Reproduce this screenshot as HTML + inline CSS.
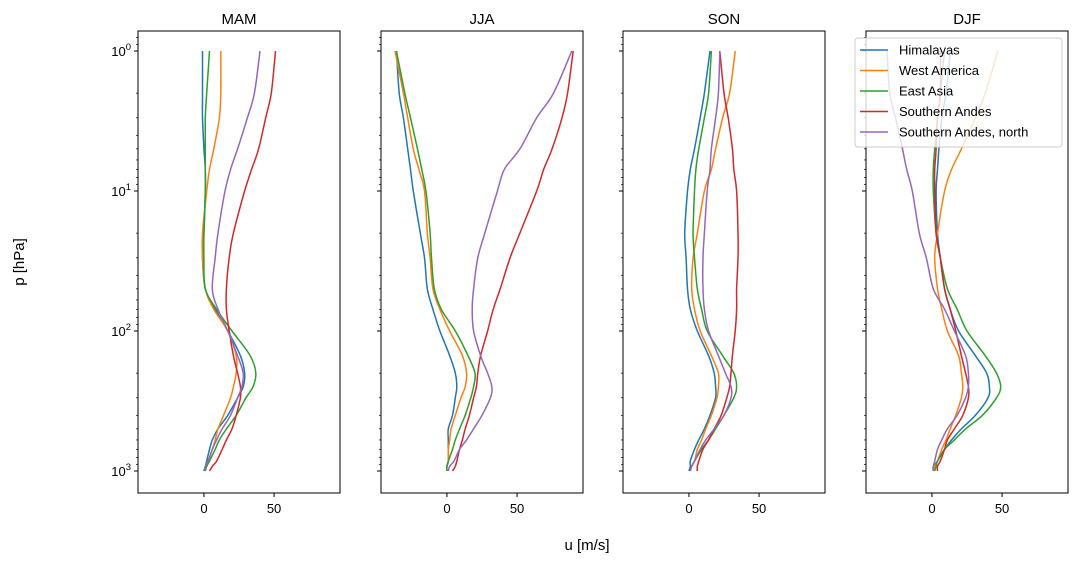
<!DOCTYPE html>
<html><head><meta charset="utf-8"><style>
body{margin:0;background:#fff;}
svg text{font-family:"Liberation Sans",sans-serif;fill:#000;}
</style></head><body>
<svg id="chart" width="1081" height="564" xmlns="http://www.w3.org/2000/svg">
<text x="587" y="550" font-size="15" text-anchor="middle">u [m/s]</text>
<text transform="translate(24,262) rotate(-90)" font-size="15" text-anchor="middle">p [hPa]</text>
</svg>
<script>
const pressures=[1,2,3,5,7,10,20,30,50,70,100,150,200,250,300,400,500,600,700,850,925,1000];
const seasons=["MAM","JJA","SON","DJF"];
const regions=["Himalayas","West America","East Asia","Southern Andes","Southern Andes, north"];
const colors=["#1f77b4","#ff7f0e","#2ca02c","#d62728","#9467bd"];
const xTicks=[0,50];
const yTicks=[1,10,100,1000];
const mamHim=[-1,-1,-1,0,1,1,0,-1,1,8,17,26,29,28,24,17,10,6,4,2,1,0];
const mamWA=[12,12,11,7,4,2,-1,-1,1,7,17,23,23,21,19,14,10,8,6,3,1,1];
const mamEA=[4,2,1,1,1,1,0,0,1,9,20,33,37,35,30,23,16,11,8,4,2,1];
const mamSA=[51,48,44,39,34,29,21,18,16,16,18,21,24,26,26,23,20,16,13,9,6,4];
const mamSAN=[40,36,31,24,19,15,10,8,6,10,17,24,28,27,24,19,13,9,6,3,1,1];
const jjaHim=[-36,-34,-31,-28,-26,-24,-19,-16,-14,-10,-5,2,6,7,6,4,1,1,1,1,0,0];
const jjaWA=[-37,-31,-28,-24,-20,-16,-14,-12,-10,-5,2,11,14,13,10,6,3,2,1,1,0,0];
const jjaEA=[-36,-30,-26,-21,-18,-15,-12,-11,-9,-4,6,15,20,19,17,13,9,6,4,1,0,0];
const jjaSA=[90,86,82,75,69,64,52,45,38,33,29,24,22,21,19,16,13,11,9,7,6,4];
const jjaSAN=[89,76,64,52,41,36,27,22,19,18,19,24,29,32,31,25,19,14,9,5,2,1];
const sonHim=[15,11,8,4,1,-1,-3,-2,-1,1,6,14,18,19,19,15,11,7,4,1,1,0];
const sonWA=[33,29,24,19,16,11,6,3,2,4,8,16,21,21,20,16,12,9,6,4,2,1];
const sonEA=[16,14,11,7,5,4,3,4,6,9,13,24,32,34,32,25,19,14,9,4,2,1];
const sonSA=[22,25,28,31,32,34,35,35,34,34,33,31,30,29,27,23,18,14,10,7,6,6];
const sonSAN=[22,21,19,16,15,13,11,10,10,11,14,21,26,30,30,25,18,12,8,4,2,1];
const djfHim=[13,10,7,5,4,3,4,6,9,13,19,31,39,41,40,31,21,14,9,4,1,1];
const djfWA=[47,38,31,21,14,9,4,2,4,7,11,19,21,22,21,17,13,10,7,4,2,1];
const djfEA=[9,6,4,2,1,1,3,6,11,18,25,38,46,49,46,36,24,16,9,4,3,2];
const djfSA=[6,6,4,3,2,2,3,6,9,13,17,21,24,26,26,22,16,11,9,6,4,4];
const djfSAN=[-32,-30,-26,-21,-18,-14,-9,-4,1,9,16,24,26,26,24,18,11,7,4,2,1,1];
const seriesBySeason=[[mamHim,mamWA,mamEA,mamSA,mamSAN],[jjaHim,jjaWA,jjaEA,jjaSA,jjaSAN],[sonHim,sonWA,sonEA,sonSA,sonSAN],[djfHim,djfWA,djfEA,djfSA,djfSAN]];

const svg=document.getElementById('chart');
const NS="http://www.w3.org/2000/svg";
function mk(t,a){const e=document.createElementNS(NS,t);for(const k in a)e.setAttribute(k,a[k]);svg.appendChild(e);return e;}
const lefts=[138,381,623,866],panelW=202,axTop=31,axBot=493;
const xmin=-47,xmax=97;
function yScale(p){return 51+140*Math.log10(p);}
function smoothPath(P){
  let d="M"+P[0][0].toFixed(1)+","+P[0][1].toFixed(1);
  for(let i=0;i<P.length-1;i++){
    const p0=P[Math.max(0,i-1)],p1=P[i],p2=P[i+1],p3=P[Math.min(P.length-1,i+2)];
    const c1=[p1[0]+(p2[0]-p0[0])/6,p1[1]+(p2[1]-p0[1])/6];
    const c2=[p2[0]-(p3[0]-p1[0])/6,p2[1]-(p3[1]-p1[1])/6];
    d+=" C"+c1[0].toFixed(1)+","+c1[1].toFixed(1)+" "+c2[0].toFixed(1)+","+c2[1].toFixed(1)+" "+p2[0].toFixed(1)+","+p2[1].toFixed(1);
  }
  return d;
}
seasons.forEach((s,i)=>{
  const L=lefts[i];
  const xs=u=>L+(u-xmin)/(xmax-xmin)*panelW;
  seriesBySeason[i].forEach((arr,j)=>{
    const P=arr.map((u,k)=>[xs(u),yScale(pressures[k])]);
    const pl=mk('path',{d:smoothPath(P),fill:"none",stroke:colors[j],"stroke-width":1.5,"stroke-linejoin":"round"});
    
    
  });
  const fr=mk('rect',{x:L,y:axTop,width:panelW,height:axBot-axTop,fill:"none",stroke:"#000","stroke-width":1});
  
  
  const t=mk('text',{x:L+panelW/2,y:24,"font-size":15,"text-anchor":"middle"});t.textContent=s;
  
  
  xTicks.forEach(v=>{
    mk('line',{x1:xs(v),x2:xs(v),y1:axBot,y2:axBot+4,stroke:"#000"});
    const tl=mk('text',{x:xs(v),y:axBot+20,"font-size":13,"text-anchor":"middle"});tl.textContent=v;
    
    
  });
  for(let d=0;d<=3;d++){for(let m=1;m<10;m++){const p=Math.pow(10,d)*m;const y=yScale(p);if(y<axTop||y>axBot)continue;
    mk('line',{x1:L-(m==1?4:2),x2:L,y1:y,y2:y,stroke:"#000","stroke-width":m==1?1:0.7});}}
  for(let m=2;m<10;m++){const y=yScale(m/10);if(y>=axTop)mk('line',{x1:L-2,x2:L,y1:y,y2:y,stroke:"#000","stroke-width":0.7});}
  if(i==0){yTicks.forEach((v,k)=>{
    const tl=mk('text',{x:L-7,y:yScale(v)+5,"font-size":13,"text-anchor":"end"});
    tl.innerHTML='10<tspan dy="-6" font-size="9.5">'+k+'</tspan>';
    
    
  });}
});
const lg=mk('rect',{x:855,y:38,width:207,height:109,rx:3,fill:"#fff","fill-opacity":0.8,stroke:"#ccc"});


regions.forEach((r,j)=>{
  const y=50+j*20.5;
  mk('line',{x1:860,x2:888,y1:y,y2:y,stroke:colors[j],"stroke-width":1.5});
  const t=mk('text',{x:899,y:y+4.5,"font-size":13});t.textContent=r;
  
  
});
</script>
</body></html>
